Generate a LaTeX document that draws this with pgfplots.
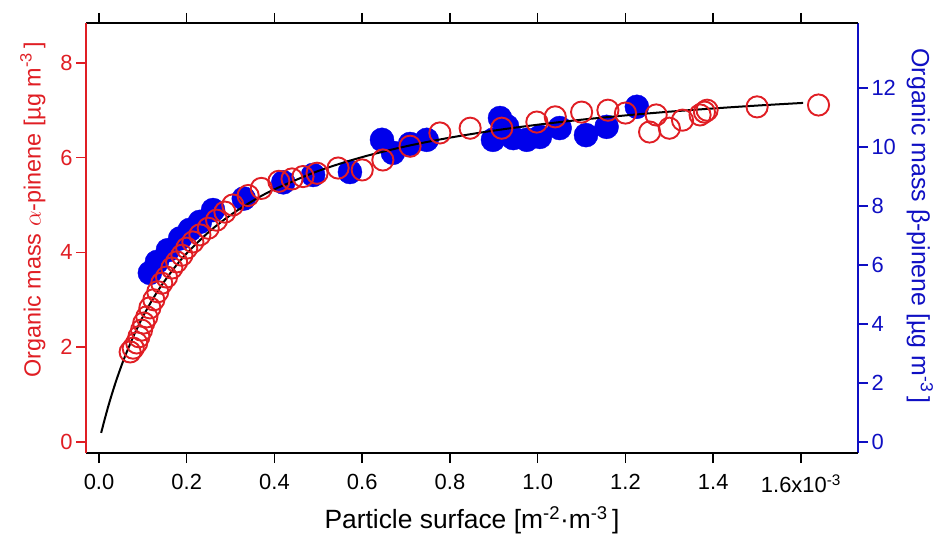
\documentclass[border=0pt]{standalone}
\usepackage{pgfplots}
\pgfplotsset{compat=1.18}
\usepackage{pgfplotstable}
\usepackage{fontspec}
\setmainfont{Liberation Sans}
\definecolor{myred}{RGB}{224,30,36}
\definecolor{myblue}{RGB}{0,0,235}
\definecolor{axblue}{RGB}{15,15,195}

\pgfplotstableread{
x y
0.071 1.90
0.078 1.98
0.086 2.09
0.091 2.22
0.097 2.36
0.102 2.51
0.109 2.64
0.116 2.83
0.125 3.00
0.134 3.17
0.143 3.35
0.154 3.48
0.166 3.67
0.177 3.80
0.189 3.94
0.200 4.09
0.214 4.22
0.230 4.37
0.249 4.51
0.268 4.68
0.287 4.85
0.305 5.00
0.340 5.20
0.370 5.35
0.410 5.50
0.440 5.55
0.465 5.60
0.497 5.67
0.545 5.78
0.600 5.74
0.647 5.95
0.709 6.24
0.777 6.52
0.846 6.62
0.918 6.62
0.998 6.75
1.040 6.86
1.100 6.96
1.160 7.00
1.200 6.94
1.255 6.54
1.270 6.90
1.300 6.62
1.330 6.79
1.370 6.90
1.380 6.96
1.386 7.00
1.500 7.07
1.640 7.11
}\alphadata

\pgfplotstableread{
x y
0.116 5.73
0.132 6.10
0.157 6.50
0.185 6.90
0.207 7.19
0.230 7.46
0.260 7.86
0.330 8.25
0.420 8.80
0.488 9.05
0.572 9.15
0.645 10.24
0.670 9.80
0.709 10.10
0.747 10.24
0.898 10.24
0.914 10.98
0.930 10.70
0.944 10.30
0.975 10.24
1.005 10.34
1.050 10.64
1.110 10.40
1.157 10.68
1.226 11.36
}\betadata

\pgfplotstableread{
x y
0.005 0.192
0.010 0.374
0.020 0.716
0.030 1.028
0.040 1.315
0.050 1.579
0.060 1.824
0.080 2.261
0.100 2.642
0.120 2.975
0.140 3.270
0.170 3.654
0.200 3.980
0.250 4.429
0.300 4.789
0.350 5.085
0.400 5.331
0.500 5.719
0.600 6.011
0.700 6.239
0.800 6.421
0.900 6.570
1.000 6.694
1.100 6.800
1.200 6.890
1.300 6.969
1.400 7.037
1.500 7.098
1.605 7.154
}\fitdata

\begin{document}
\begin{tikzpicture}
\path[use as bounding box] (-86bp,-84bp) rectangle (860bp,453bp);
% right axis (beta-pinene)
\begin{axis}[
  at={(0,0)}, anchor=south west,
  width=772bp, height=430bp, scale only axis,
  xmin=-0.0296, xmax=1.730,
  ymin=-0.373, ymax=14.2,
  axis x line=none,
  axis y line*=right,
  y axis line style={axblue, line width=1.5bp},
  ytick={0,2,4,6,8,10,12},
  tick align=outside,
  major tick length=10bp,
  ytick style={axblue, line width=1.5bp},
  yticklabel style={axblue, font=\fontsize{22}{26}\selectfont},
  /pgf/number format/assume math mode=true,
  every axis y label/.style={at={(axis description cs:1.080,0.528)}, anchor=center, rotate=-90},
  ylabel={Organic mass β-pinene [µg m\textsuperscript{-3}\,]},
  ylabel style={axblue, font=\fontsize{25}{29}\selectfont},
]
\addplot[only marks, mark=*, mark size=12bp, color=myblue, mark options={fill=myblue, draw=myblue}] table {\betadata};
\end{axis}
% left axis (alpha-pinene)
\begin{axis}[
  at={(0,0)}, anchor=south west,
  width=772bp, height=430bp, scale only axis,
  xmin=-0.0296, xmax=1.730,
  ymin=-0.232, ymax=8.84,
  axis x line*=box,
  axis y line*=left,
  x axis line style={black, line width=1.5bp},
  y axis line style={myred, line width=1.5bp},
  xtick={0,0.2,0.4,0.6,0.8,1.0,1.2,1.4,1.6},
  xticklabels={0.0,0.2,0.4,0.6,0.8,1.0,1.2,1.4,{1.6x10\textsuperscript{-3}}},
  xtick pos=both,
  xticklabel pos=lower,
  ytick={0,2,4,6,8},
  tick align=outside,
  major tick length=10bp,
  xtick style={black, line width=1.5bp},
  ytick style={myred, line width=1.5bp},
  xticklabel style={black, font=\fontsize{22}{26}\selectfont, yshift=-8bp},
  yticklabel style={myred, font=\fontsize{22}{26}\selectfont},
  /pgf/number format/assume math mode=true,
  every axis y label/.style={at={(axis description cs:-0.069,0.565)}, anchor=center, rotate=90},
  every axis x label/.style={at={(axis description cs:0.5,-0.156)}, anchor=center},
  ylabel={Organic mass $\alpha$-pinene [µg m\textsuperscript{-3}\,]},
  ylabel style={myred, font=\fontsize{23.5}{28}\selectfont},
  xlabel={Particle surface [m\textsuperscript{-2}·m\textsuperscript{-3}\,]},
  xlabel style={black, font=\fontsize{26.5}{30}\selectfont},
]
\addplot[only marks, mark=o, mark size=10.6bp, color=myred, mark options={draw=myred, line width=1.9bp}] table {\alphadata};
\addplot[black, line width=2bp, smooth, no marks] table {\fitdata};
\end{axis}
\end{tikzpicture}
\end{document}
